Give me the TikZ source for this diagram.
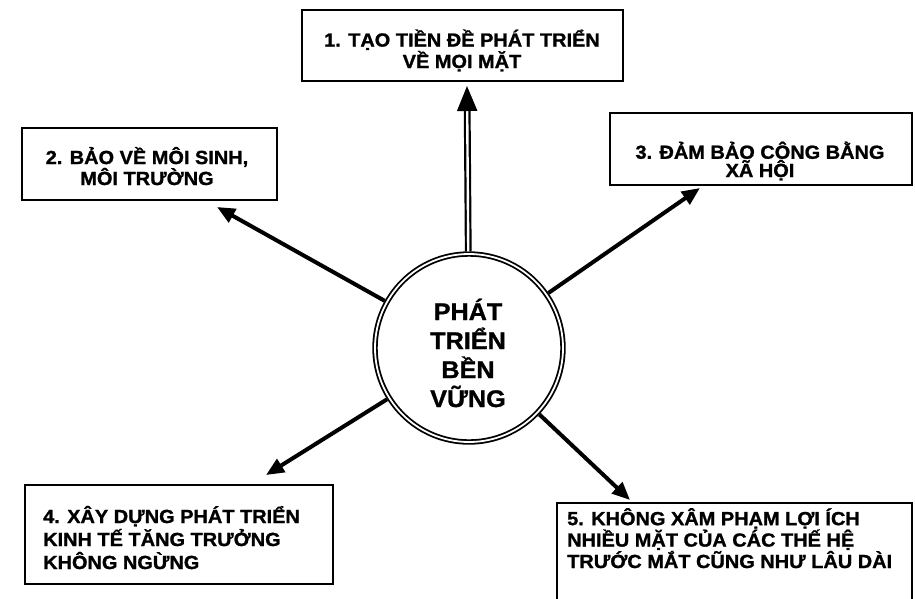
\documentclass[tikz,border=0pt]{standalone}
\usepackage{fontspec}
\setmainfont{Liberation Sans}[FakeStretch=1.05, BoldFeatures={FakeBold=1.2}]
\usetikzlibrary{arrows.meta}
\begin{document}
\begin{tikzpicture}[x=1pt,y=-1pt,
  frame/.style={draw=black, line width=2.2pt, fill=white, inner sep=0pt, outer sep=0pt},
  lbl/.style={font=\fontsize{19}{18}\selectfont\bfseries, align=center, inner sep=0pt, anchor=base},
  lbll/.style={lbl, align=left, anchor=base west},
  arr/.style={line width=4pt, -{Triangle[length=18pt,width=15pt]}},
  uparr/.style={line width=2.2pt, double, double distance=2.4pt, -{Triangle[length=25pt,width=20pt]}},
  hub/.style={circle, draw=black, double, line width=1.8pt, double distance=1.8pt,
    minimum size=188pt, inner sep=0pt, outer sep=2.7pt},
  hubtext/.style={font=\fontsize{24}{29}\selectfont\bfseries, align=center, inner sep=0pt, anchor=base}
]
\useasboundingbox[fill=white] (0,0) rectangle (915,598);

% box frames
\node[frame, minimum width=321pt, minimum height=71pt] (b1) at (462.5,45.5) {};
\node[frame, minimum width=255pt, minimum height=72pt] (b2) at (149.5,164) {};
\node[frame, minimum width=302pt, minimum height=72pt] (b3) at (761,149) {};
\node[frame, minimum width=308pt, minimum height=99pt] (b4) at (179,534.5) {};
\node[frame, anchor=north west, minimum width=355pt, minimum height=110pt] (b5) at (557,503) {};

% box texts (anchor base = baseline of last line)
\node[lbl] (b1t) at (462,68) {1. TẠO TIỀN ĐỀ PHÁT TRIỂN\\VỀ MỌI MẶT};
\node[lbl] (b2t) at (147,185) {2. BẢO VỀ MÔI SINH,\\MÔI TRƯỜNG};
\node[lbl, font=\fontsize{19}{17}\selectfont\bfseries] (b3t) at (760,177) {3. ĐẢM BẢO CÔNG BẰNG\\XÃ HỘI};
\node[lbll, font=\fontsize{19}{23}\selectfont\bfseries] (b4t) at (43,569)
  {4. XÂY DỰNG PHÁT TRIỂN\\KINH TẾ TĂNG TRƯỞNG\\KHÔNG NGỪNG};
\node[lbll, font=\fontsize{19}{17}\selectfont\bfseries] (b5t) at (567,568)
  {5. KHÔNG XÂM PHẠM LỢI ÍCH\\NHIỀU MẶT CỦA CÁC THẾ HỆ\\TRƯỚC MẮT CŨNG NHƯ LÂU DÀI};

% hub
\node[hub] (c) at (469,348) {};
\node[hubtext] (ct) at (468,407) {PHÁT\\TRIỂN\\BỀN\\VỮNG};

% arrow tips
\coordinate (t1) at (467,86);
\coordinate (t2) at (217,207);
\coordinate (t3) at (700,188);
\coordinate (t4) at (266,475);
\coordinate (t5) at (630,500);

\draw[uparr] (c) -- (t1);
\draw[arr] (c) -- (t2);
\draw[arr] (c) -- (t3);
\draw[arr] (c) -- (t4);
\draw[arr] (c) -- (t5);
\end{tikzpicture}
\end{document}
